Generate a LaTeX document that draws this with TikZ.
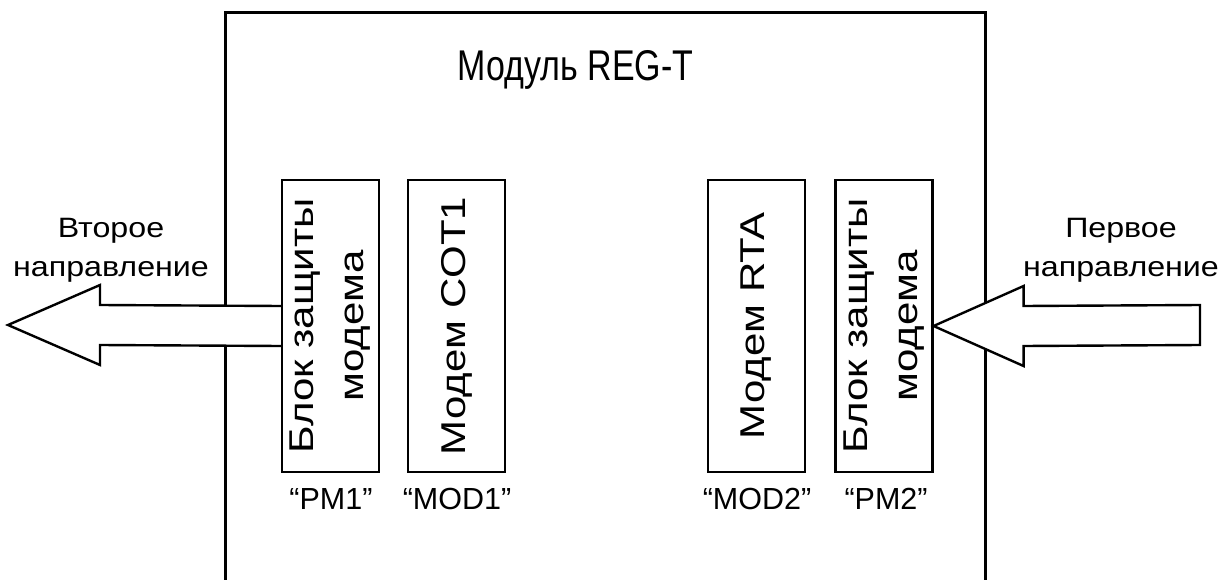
\documentclass[tikz,border=0pt]{standalone}
\usepackage{fontspec}
\setmainfont{Liberation Sans}
\usetikzlibrary{calc}
\tikzset{
  unit/.style={draw,line width=2.6pt,xscale=0.82,rotate=90,minimum width=292pt,minimum height=118.3pt,
    inner sep=0pt,align=center,font=\fontsize{42}{61}\selectfont},
  tag/.style={font=\fontsize{30.5}{36}\selectfont},
  dirtext/.style={xscale=1.15,align=center,font=\fontsize{28}{39}\selectfont},
  flow/.style={draw,line width=2.4pt,fill=white,line join=miter}
}

\begin{document}
\begin{tikzpicture}[x=1pt,y=-1pt]
    \useasboundingbox (0,0) rectangle (1222,580);
    % module frame, open at the bottom
    \draw[line width=3pt] (225,580) -- (225,13) -- (985,13) -- (985,580);
    \node[xscale=0.79,font=\fontsize{43}{50}\selectfont] (title) at (575.5,70) {Модуль REG-T};

    \node[unit] (pm1) at (330.5,326) {Блок защиты\\модема};
    \node[unit] (mod1) at (456.5,326) {Модем COT1};
    \node[unit] (mod2) at (756.5,326) {Модем RTA};
    \node[unit] (pm2) at (884,326) {Блок защиты\\модема};

    \node[tag] (pm1tag) at (331,499) {“PM1”};
    \node[tag] (mod1tag) at (457,499) {“MOD1”};
    \node[tag] (mod2tag) at (757,499) {“MOD2”};
    \node[tag] (pm2tag) at (886,499) {“PM2”};

    \coordinate (out2) at (8,325);
    \coordinate (in1) at (1200,325);
    \draw[flow] ($(pm1.north)+(0,-20)$) -- ($(out2)+(92,-20)$) -- ++(0,-20) -- (out2)
      -- ($(out2)+(92,40)$) -- ++(0,-20) -- ($(pm1.north)+(0,20)$);
    \draw[flow] (pm2.south) -- +(90,-40) -- +(90,-20) -- ($(in1)+(0,-20)$)
      -- ($(in1)+(0,20)$) -- ($(pm2.south)+(90,20)$) -- ($(pm2.south)+(90,40)$) -- cycle;

    \node[dirtext] (dir2) at (111,250) {Второе\\направление};
    \node[dirtext] (dir1) at (1121,250) {Первое\\направление};
  \end{tikzpicture}
\end{document}
